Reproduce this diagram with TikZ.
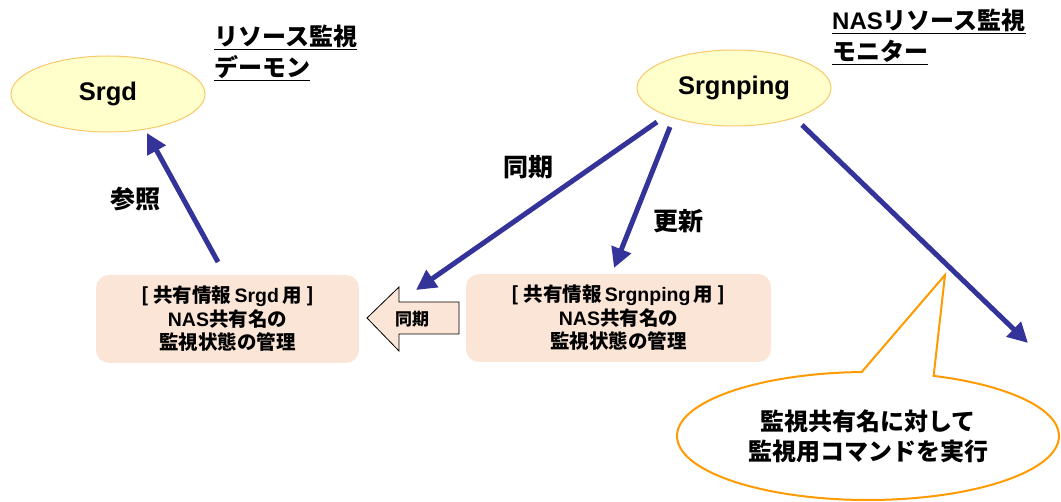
\documentclass[tikz,border=0pt]{standalone}
\usepackage{fontspec}
\setmainfont{Noto Sans CJK JP}
\newfontfamily\lat{Liberation Sans}
\usetikzlibrary{arrows.meta,shapes.geometric,shapes.callouts}
\definecolor{arrblue}{HTML}{333399}
\definecolor{ellfill}{HTML}{FFFFCC}
\definecolor{elldraw}{HTML}{F8C86A}
\definecolor{peach}{HTML}{FBE5D6}
\definecolor{callorange}{HTML}{FF9A00}
\tikzset{
  proc/.style={ellipse, fill=ellfill, draw=elldraw, line width=1pt, minimum width=194pt, minimum height=76pt, font=\lat\bfseries\fontsize{25.5}{28}\selectfont},
  infobox/.style={rounded corners=13pt, fill=peach, align=center, font=\bfseries\fontsize{19.5}{23.5}\selectfont},
  bigarrow/.style={draw=arrblue, line width=5pt, -{Triangle[length=20pt,width=20pt]}},
  lbl/.style={font=\bfseries\fontsize{25}{30}\selectfont},
  title/.style={align=left, anchor=north west, inner sep=0pt, font=\bfseries\fontsize{24}{31}\selectfont}
}
\begin{document}
\begin{tikzpicture}[x=1pt,y=-1pt]
\useasboundingbox (0,0) rectangle (1061,502);
% ellipses
\node[proc] (srgd) at (108,94) {Srgd};
\node[proc] (srgnping) at (734,88) {Srgnping};
% titles
\node[title] (t1) at (214,25) {\underline{リソース監視}\\\underline{デーモン}};
\node[title] (t2) at (832,9) {\underline{{\lat NAS}リソース監視}\\\underline{モニター}};
% boxes
\path[infobox] (96,275) rectangle (359,363);
\node[infobox, fill=none] (box1) at (227.5,319) {[ 共有情報\,{\lat Srgd}\,用 ]\\{\lat NAS}共有名の\\監視状態の管理};
\path[infobox] (466,274) rectangle (771,362);
\node[infobox, fill=none] (box2) at (618.5,318) {[ 共有情報\,{\lat Srgnping}\,用 ]\\{\lat NAS}共有名の\\監視状態の管理};
% block arrow
\draw[fill=peach, draw=black, line width=0.8pt] (367,318) -- (399,287) -- (399,302) -- (459,302) -- (459,334) -- (399,334) -- (399,351) -- cycle;
\node[font=\bfseries\fontsize{17}{20}\selectfont] (sync2) at (412,319) {同期};
% connector endpoints
\coordinate (a1s) at (218,262);
\coordinate (a1e) at (147,133);
\coordinate (a2s) at (657,122);
\coordinate (a2e) at (416,290);
\coordinate (a3s) at (670,127);
\coordinate (a3e) at (614,268);
\coordinate (a4s) at (802,125);
\coordinate (a4e) at (1028,343);
\draw[bigarrow] (a1s) -- (a1e);
\draw[bigarrow] (a2s) -- (a2e);
\draw[bigarrow] (a3s) -- (a3e);
\draw[bigarrow] (a4s) -- (a4e);
% labels
\node[lbl] (l1) at (135,199) {参照};
\node[lbl] (l2) at (528,167) {同期};
\node[lbl] (l3) at (678,221) {更新};
% callout
\node[ellipse callout, draw=callorange, fill=white, line width=2pt, minimum width=382pt, minimum height=128pt, callout absolute pointer={(945,275)}, callout pointer arc=22, align=center, font=\bfseries\fontsize{24}{30}\selectfont] (call) at (868,436) {監視共有名に対して\\監視用コマンドを実行};
\end{tikzpicture}
\end{document}
